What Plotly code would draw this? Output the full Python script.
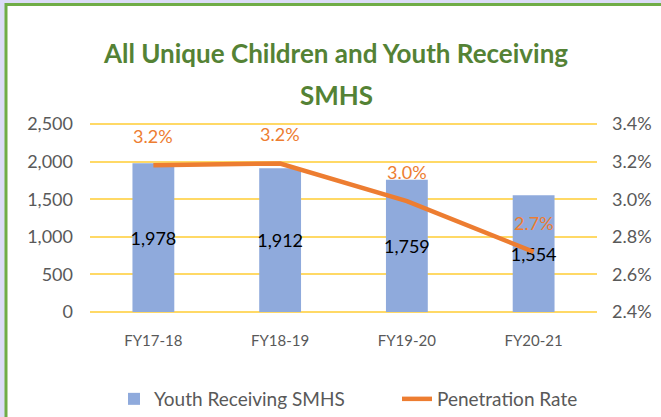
import plotly.graph_objects as go

categories = ["FY17-18", "FY18-19", "FY19-20", "FY20-21"]
youth_counts = [1978, 1912, 1759, 1554]
penetration_pct = [3.18, 3.19, 2.99, 2.72]

left_ticks = [0, 500, 1000, 1500, 2000, 2500]
right_ticks = [2.4, 2.6, 2.8, 3.0, 3.2, 3.4]

title_line1 = "All Unique Children and Youth Receiving"
title_line2 = "SMHS"

BAR = "#8FAADC"
LINE = "#ED7D31"
GRID = "#FFD966"
GRAY = "#595959"
TITLE = "#548235"
FONT = "Lato"

W, H = 661, 417
E = 2  # extra px above/below the data range so edge gridlines are kept
L, R, T, B = 90, 64, 124 - E, 105 - E
pw, ph = W - L - R, H - T - B
data_ph = ph - 2 * E

fig = go.Figure()
fig.add_trace(go.Bar(
    x=categories, y=youth_counts, name="Youth Receiving SMHS",
    marker=dict(color=BAR, line=dict(width=0)), width=0.33,
    text=[f"{v:,}" for v in youth_counts], textposition="inside",
    insidetextanchor="middle", textangle=0, constraintext="none",
    textfont=dict(color="black", size=18, family=FONT),
    legend="legend",
))
fig.add_trace(go.Scatter(
    x=categories, y=penetration_pct, name="Penetration Rate", yaxis="y2",
    mode="lines", line=dict(color=LINE, width=4.5),
    legend="legend2",
))

annotations = []
for c, v in zip(categories, penetration_pct):
    annotations.append(dict(
        x=c, y=v, xref="x", yref="y2", text=f"{v:.1f}%", showarrow=False,
        yshift=29, font=dict(color=LINE, size=18, family=FONT),
    ))


def px_x(p):
    return (p - L) / pw


def px_y(p):
    return (H - B - p) / ph


annotations.append(dict(
    x=px_x(336), y=px_y(95), xref="paper", yref="paper", text=title_line2,
    showarrow=False, xanchor="center", yanchor="middle",
    font=dict(family=FONT, size=26, color=TITLE, weight="bold"),
))

legend_style = dict(
    orientation="h", xref="container", xanchor="left",
    yref="container", y=(H - 399) / H, yanchor="middle",
    font=dict(size=19, color=GRAY, family=FONT), bgcolor="rgba(0,0,0,0)",
)

pad1 = E * 2500 / data_ph
pad2 = E * 1.0 / data_ph
fig.update_layout(
    width=W, height=H,
    margin=dict(l=L, r=R, t=T, b=B, pad=0, autoexpand=False),
    paper_bgcolor="#DCDCF7",
    plot_bgcolor="rgba(0,0,0,0)",
    font=dict(family=FONT, color=GRAY),
    title=dict(
        text=title_line1,
        x=336 / W, xanchor="center", y=(H - 54) / H, yanchor="middle",
        yref="container",
        font=dict(family=FONT, size=26, color=TITLE, weight="bold"),
    ),
    showlegend=True,
    legend=dict(legend_style, x=114 / W),
    legend2=dict(legend_style, x=397 / W),
    xaxis=dict(
        type="category", showgrid=False, showline=False, zeroline=False,
        tickfont=dict(size=15, color=GRAY), ticklabelstandoff=14 + E,
    ),
    yaxis=dict(
        range=[0 - pad1, 2500 + pad1], tickvals=left_ticks, tickformat=",",
        showgrid=True, gridcolor=GRID, gridwidth=1.5, zeroline=False,
        showline=False, tickfont=dict(size=18, color=GRAY), ticklabelstandoff=16,
    ),
    yaxis2=dict(
        range=[2.4 - pad2, 3.4 + pad2], tickvals=right_ticks,
        ticktext=[f"{t:.1f}%" for t in right_ticks],
        overlaying="y", side="right", showgrid=False, zeroline=False, showline=False,
        tickfont=dict(size=18, color=GRAY), ticklabelstandoff=14,
    ),
    annotations=annotations,
    shapes=[dict(
        type="rect", xref="paper", yref="paper", layer="below",
        x0=px_x(6), x1=px_x(W + 20), y0=px_y(H + 20), y1=px_y(4.5),
        fillcolor="white", line=dict(color="#70AD47", width=3),
    )],
)

fig.write_html(
    "out.html",
    config={"displayModeBar": False},
    post_script="document.body.style.margin='0';document.body.style.overflow='hidden';",
)
